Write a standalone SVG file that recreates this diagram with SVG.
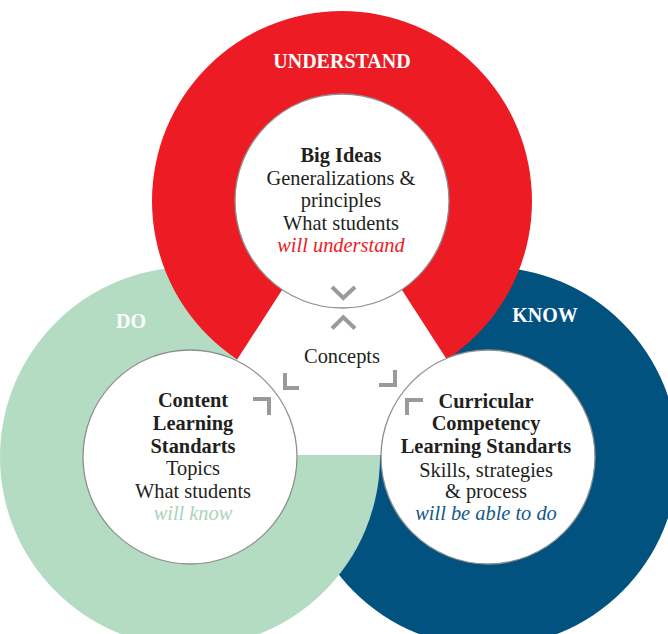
<svg xmlns="http://www.w3.org/2000/svg" width="668" height="634" viewBox="0 0 668 634">
<style>
text{font-family:"Liberation Serif","Times New Roman",serif;text-anchor:middle;fill:#231f20;font-size:20.4px}
.b{font-weight:bold}
.lbl{font-weight:bold;fill:#fff;font-size:20px}
.i{font-style:italic}
.inner{fill:#fff;stroke:#8f8f8f;stroke-width:1.3}
.chev{fill:none;stroke:#999a9d;stroke-width:4;stroke-linecap:butt;stroke-linejoin:miter}
</style>
<rect width="668" height="634" fill="#fff"/>
<g id="ring-know"><circle cx="488" cy="457" r="190" fill="#02527f"/></g>
<g id="ring-do"><circle cx="190" cy="457" r="190" fill="#b3dcc2"/></g>
<g id="ring-understand"><circle cx="342" cy="201" r="190" fill="#ed1c24"/></g>
<g id="concepts"><polygon points="342,197 175.6,455 508.4,455" fill="#fff"/>
<text x="342" y="363">Concepts</text></g>
<g id="big-ideas"><circle class="inner" cx="342" cy="201" r="107"/>
<text class="b" x="341" y="162">Big Ideas</text>
<text x="341" y="185">Generalizations &amp;</text>
<text x="341" y="207">principles</text>
<text x="341" y="230">What students</text>
<text class="i" x="341" y="252" style="fill:#ed1c24">will understand</text></g>
<g id="content"><circle class="inner" cx="190" cy="457" r="107"/>
<text class="b" x="193" y="407">Content</text>
<text class="b" x="193" y="430">Learning</text>
<text class="b" x="193" y="453">Standarts</text>
<text x="193" y="475">Topics</text>
<text x="193" y="498">What students</text>
<text class="i" x="193" y="520" style="fill:#a9d4b8">will know</text></g>
<g id="curricular"><circle class="inner" cx="488" cy="457" r="107"/>
<text class="b" x="486" y="408">Curricular</text>
<text class="b" x="486" y="430">Competency</text>
<text class="b" x="486" y="453">Learning Standarts</text>
<text x="486" y="477">Skills, strategies</text>
<text x="486" y="498">&amp; process</text>
<text class="i" x="486" y="520" style="fill:#13588a">will be able to do</text></g>
<g id="labels">
<text class="lbl" x="342" y="68">UNDERSTAND</text>
<text class="lbl" x="131" y="328">DO</text>
<text class="lbl" x="545" y="322">KNOW</text>
</g>
<g id="connectors">
<polyline class="chev" points="332,287 343.3,298 355,287"/>
<polyline class="chev" points="332,328.5 343.3,317.3 355,328.5"/>
<polyline class="chev" points="285,373 285,388 299,388"/>
<polyline class="chev" points="253,399 269,399 269,415"/>
<polyline class="chev" points="395,370 395,385 379,385"/>
<polyline class="chev" points="423,400 407,400 407,415"/>
</g>
</svg>
